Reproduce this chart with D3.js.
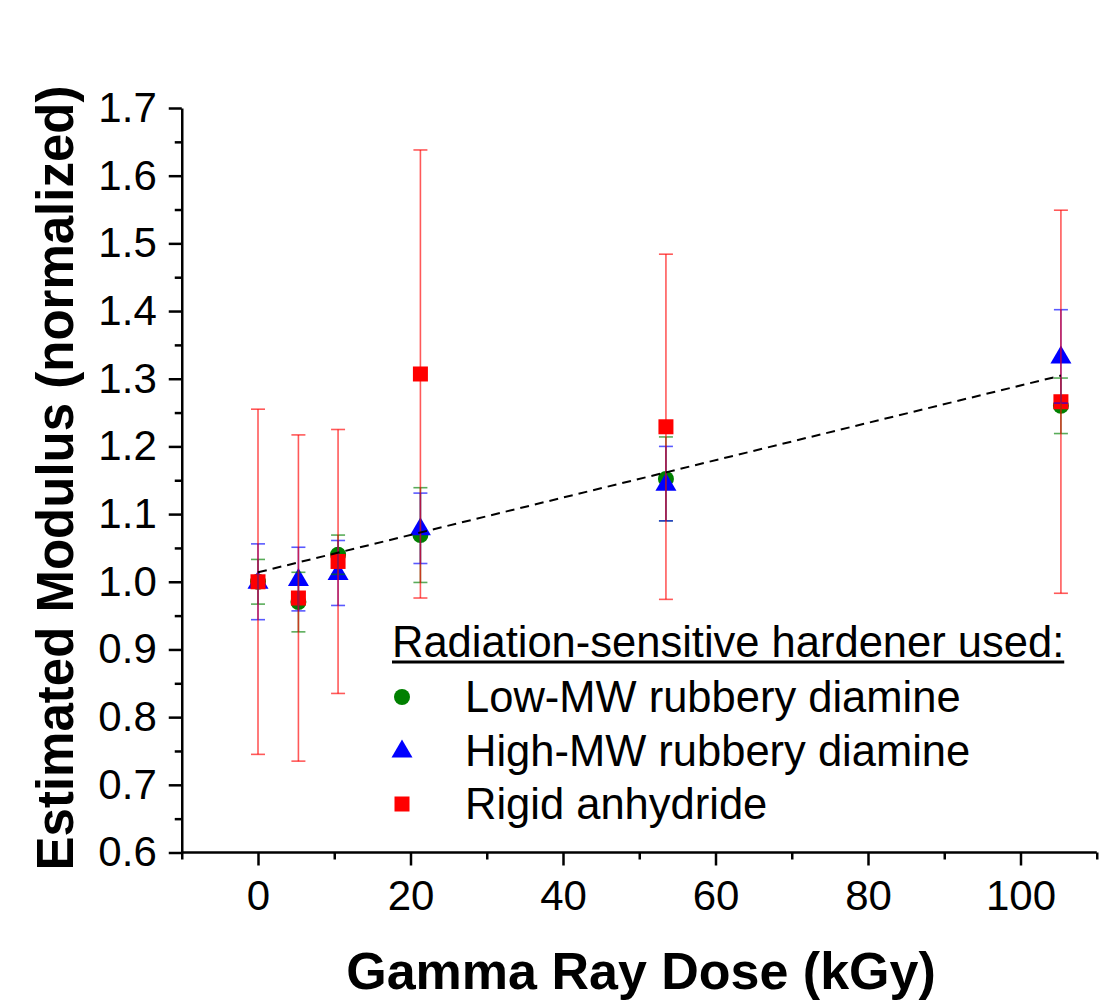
<!DOCTYPE html>
<html>
<meta charset="utf-8">
<title>Estimated Modulus vs Gamma Ray Dose</title>
<style>
  body { margin: 0; background: #fff; }
  svg text { font-family: Arial, "Liberation Sans", sans-serif; fill: #000; }
  .axis path, .axis line { stroke: #000; stroke-width: 2.5px; }
  .axis text { font-size: 42px; }
  .fit { fill: none; stroke: #000; stroke-width: 2px; stroke-dasharray: 9,6; }
</style>
<body>
<div id="chart"></div>
<script src="https://d3js.org/d3.v7.min.js"></script>
<script>
// dose values (kGy)
var doses = [0, 5.3, 10.5, 21.3, 53.5, 105.3];

// series values and error half-widths
var lowMW      = [1.000, 0.970, 1.040, 1.069, 1.152, 1.260];
var lowMWErr   = [0.033, 0.044, 0.029, 0.070, 0.062, 0.041];
var highMW     = [1.000, 1.004, 1.013, 1.079, 1.145, 1.333];
var highMWErr  = [0.056, 0.047, 0.048, 0.052, 0.055, 0.069];
var rigid      = [1.000, 0.976, 1.030, 1.307, 1.229, 1.266];
var rigidErr   = [0.255, 0.241, 0.195, 0.331, 0.255, 0.283];

// linear fit (dashed)
var fitIntercept = 1.014;
var fitSlope = 0.00276;
var fitRange = [0, 105.3];

var xTicks = [0, 20, 40, 60, 80, 100];
var xMinor = [-10, 10, 30, 50, 70, 90, 110];
var yTicks = [0.6, 0.7, 0.8, 0.9, 1.0, 1.1, 1.2, 1.3, 1.4, 1.5, 1.6, 1.7];
var yMinor = [0.65, 0.75, 0.85, 0.95, 1.05, 1.15, 1.25, 1.35, 1.45, 1.55, 1.65];

var legendTitle = "Radiation-sensitive hardener used:";
var seriesNames = ["Low-MW rubbery diamine", "High-MW rubbery diamine", "Rigid anhydride"];

var width = 1099, height = 1001;

var svg = d3.select("#chart").append("svg")
    .attr("width", width)
    .attr("height", height);

var x = d3.scaleLinear().domain([-10, 110]).range([181.75, 1096.75]);
var y = d3.scaleLinear().domain([0.6, 1.7]).range([852.5, 108]);

var series = [
  {name: seriesNames[0], vals: lowMW,  err: lowMWErr,  color: "#008000", shape: "circle"},
  {name: seriesNames[1], vals: highMW, err: highMWErr, color: "#0000ff", shape: "triangle"},
  {name: seriesNames[2], vals: rigid,  err: rigidErr,  color: "#ff0000", shape: "square"}
];

function drawMarker(g, shape, color) {
  if (shape === "circle") {
    g.append("circle").attr("r", 8).attr("fill", color);
  } else if (shape === "triangle") {
    g.append("path").attr("d", "M0,-11L10.5,7L-10.5,7Z").attr("fill", color);
  } else {
    g.append("rect").attr("x", -7.5).attr("y", -7.5).attr("width", 15).attr("height", 15).attr("fill", color);
  }
}

// axes
var xAxis = svg.append("g").attr("class", "axis")
    .attr("transform", "translate(0," + y(0.6) + ")")
    .call(d3.axisBottom(x).tickValues(xTicks).tickSize(13).tickPadding(15).tickSizeOuter(0));
xAxis.select(".domain").attr("d", "M" + x(-10) + ",0H" + x(110));

svg.append("g").attr("class", "axis")
    .attr("transform", "translate(0," + y(0.6) + ")")
    .call(d3.axisBottom(x).tickValues(xMinor).tickSize(7).tickFormat("").tickSizeOuter(0))
    .select(".domain").remove();

var yAxis = svg.append("g").attr("class", "axis")
    .attr("transform", "translate(" + x(-10) + ",0)")
    .call(d3.axisLeft(y).tickValues(yTicks).tickSize(13).tickPadding(12).tickSizeOuter(0)
      .tickFormat(d3.format(".1f")));

svg.append("g").attr("class", "axis")
    .attr("transform", "translate(" + x(-10) + ",0)")
    .call(d3.axisLeft(y).tickValues(yMinor).tickSize(7).tickFormat("").tickSizeOuter(0))
    .select(".domain").remove();

// markers
series.forEach(function(s) {
  svg.append("g").selectAll("g")
    .data(doses)
    .enter().append("g")
      .attr("transform", function(d, i) { return "translate(" + x(d) + "," + y(s.vals[i]) + ")"; })
      .each(function() { drawMarker(d3.select(this), s.shape, s.color); });
});

// error bars
series.forEach(function(s) {
  var eb = svg.append("g")
      .attr("stroke", s.color)
      .attr("stroke-width", 1.6)
      .attr("stroke-opacity", 0.65)
    .selectAll("g")
    .data(doses)
    .enter().append("g");
  eb.append("line")
      .attr("x1", function(d) { return x(d); })
      .attr("x2", function(d) { return x(d); })
      .attr("y1", function(d, i) { return y(s.vals[i] - s.err[i]); })
      .attr("y2", function(d, i) { return y(s.vals[i] + s.err[i]); });
  [-1, 1].forEach(function(sign) {
    eb.append("line")
      .attr("x1", function(d) { return x(d) - 7; })
      .attr("x2", function(d) { return x(d) + 7; })
      .attr("y1", function(d, i) { return y(s.vals[i] + sign * s.err[i]); })
      .attr("y2", function(d, i) { return y(s.vals[i] + sign * s.err[i]); });
  });
});

// fit line
svg.append("path")
    .datum(fitRange)
    .attr("class", "fit")
    .attr("d", d3.line()
      .x(function(d) { return x(d); })
      .y(function(d) { return y(fitIntercept + fitSlope * d); }));

// legend
var legend = svg.append("g").attr("transform", "translate(392,0)");
var lt = legend.append("text")
    .attr("x", 0).attr("y", 657)
    .style("font-size", "43.5px")
    .text(legendTitle);
var tw = lt.node().getComputedTextLength();
legend.append("line")
    .attr("x1", 0).attr("x2", tw)
    .attr("y1", 662).attr("y2", 662)
    .attr("stroke", "#000").attr("stroke-width", 3);

var rows = legend.selectAll("g.row")
    .data(series)
    .enter().append("g")
    .attr("class", "row")
    .attr("transform", function(d, i) { return "translate(0," + (697 + i * 53.5) + ")"; });
rows.append("g")
    .attr("transform", "translate(10,0)")
    .each(function(d) { drawMarker(d3.select(this), d.shape, d.color); });
rows.append("text")
    .attr("x", 73).attr("y", 15)
    .style("font-size", "43.5px")
    .text(function(d) { return d.name; });

// axis titles
svg.append("text")
    .attr("x", 641).attr("y", 989)
    .attr("text-anchor", "middle")
    .style("font-size", "52px").style("font-weight", "bold")
    .text("Gamma Ray Dose (kGy)");

svg.append("text")
    .attr("transform", "translate(73,478) rotate(-90)")
    .attr("text-anchor", "middle")
    .style("font-size", "51px").style("font-weight", "bold")
    .text("Estimated Modulus (normalized)");
</script>
</body>
</html>
